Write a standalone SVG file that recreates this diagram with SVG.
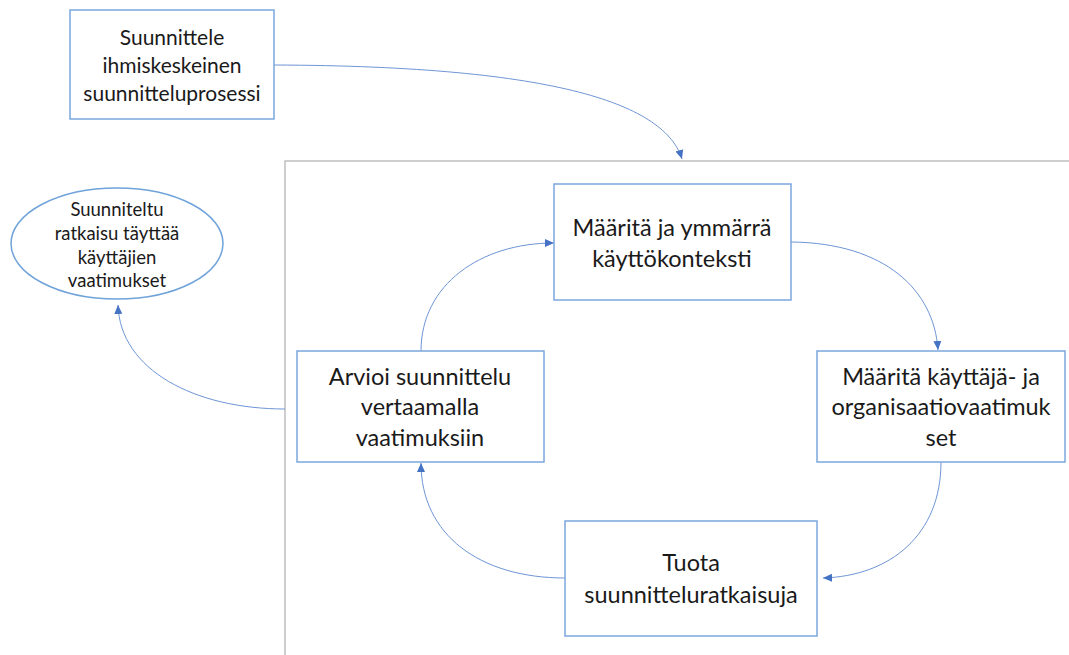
<svg xmlns="http://www.w3.org/2000/svg" width="1069" height="655" viewBox="0 0 1069 655">
<style>
.box{fill:#fff;stroke:#7BA7DC;stroke-width:1.5}
.t{font-family:Lato,"Liberation Sans",sans-serif;font-size:23.5px;fill:#1a1a1a;text-anchor:middle}
.tm{font-family:Lato,"Liberation Sans",sans-serif;font-size:21px;fill:#1a1a1a;text-anchor:middle}
.ts{font-family:Lato,"Liberation Sans",sans-serif;font-size:18.5px;fill:#1a1a1a;text-anchor:middle}
.c{fill:none;stroke:#6E95D6;stroke-width:1}
.frame{fill:none;stroke:#BFBFBF;stroke-width:1.5}
</style>
<defs>
<marker id="a" markerUnits="userSpaceOnUse" markerWidth="10" markerHeight="10" refX="9" refY="5" orient="auto">
<path d="M0,1 L9,5 L0,9 Z" fill="#4472C4"/>
</marker>
</defs>
<rect width="1069" height="655" fill="#fff"/>
<path class="frame" d="M285,655 L285,161 L1069,161"/>
<g id="connectors">
<path class="c" d="M274,65 C560,66 665,105 682,159" marker-end="url(#a)"/>
<path class="c" d="M791,242 C885,243 934,290 938,350" marker-end="url(#a)"/>
<path class="c" d="M941,462 C941,535 890,576 823,578" marker-end="url(#a)"/>
<path class="c" d="M565,578 C480,578 421,535 421,463" marker-end="url(#a)"/>
<path class="c" d="M421,351 C421,285 480,243 554,243" marker-end="url(#a)"/>
<path class="c" d="M285,409 C195,409 120,370 118,305" marker-end="url(#a)"/>
</g>
<g id="n1">
<rect class="box" x="70" y="10" width="204" height="109"/>
<text class="tm" x="172" y="45">Suunnittele</text>
<text class="tm" x="172" y="73">ihmiskeskeinen</text>
<text class="tm" x="172" y="101">suunnitteluprosessi</text>
</g>
<g id="n2">
<ellipse cx="117" cy="243.5" rx="106" ry="55.5" fill="#fff" stroke="#6FA3DA" stroke-width="1.5"/>
<text class="ts" x="117" y="216">Suunniteltu</text>
<text class="ts" x="117" y="240">ratkaisu täyttää</text>
<text class="ts" x="117" y="264">käyttäjien</text>
<text class="ts" x="117" y="287">vaatimukset</text>
</g>
<g id="n3">
<rect class="box" x="554" y="184" width="237" height="116"/>
<text class="t" x="672" y="236">Määritä ja ymmärrä</text>
<text class="t" x="672" y="267">käyttökonteksti</text>
</g>
<g id="n4">
<rect class="box" x="817" y="351" width="248" height="111"/>
<text class="t" x="941" y="385">Määritä käyttäjä- ja</text>
<text class="t" x="941" y="415">organisaatiovaatimuk</text>
<text class="t" x="941" y="446">set</text>
</g>
<g id="n5">
<rect class="box" x="565" y="521" width="252" height="115"/>
<text class="t" x="691" y="571">Tuota</text>
<text class="t" x="691" y="603">suunnitteluratkaisuja</text>
</g>
<g id="n6">
<rect class="box" x="297" y="351" width="247" height="111"/>
<text class="t" x="420" y="385">Arvioi suunnittelu</text>
<text class="t" x="420" y="415">vertaamalla</text>
<text class="t" x="420" y="446">vaatimuksiin</text>
</g>
</svg>
